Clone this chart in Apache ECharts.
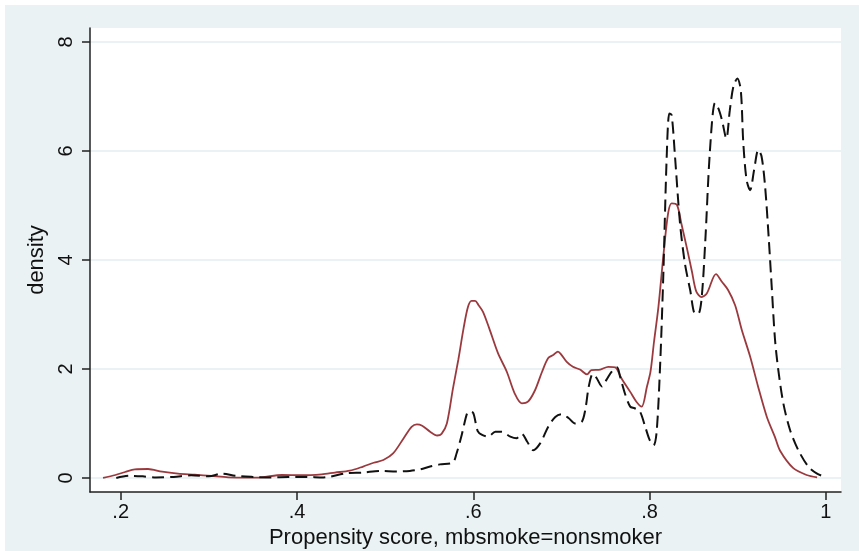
<!DOCTYPE html>
<html>
<head>
<meta charset="utf-8">
<script src="https://cdn.jsdelivr.net/npm/echarts@6/dist/echarts.min.js"></script>
<style>
    html, body { margin: 0; padding: 0; background: #ffffff; }
    #frame { position: absolute; left: 5px; top: 5px; width: 854px; height: 546px; background: #eaf2f3; }
    #main { width: 854px; height: 546px; }
</style>
</head>
<body>
<div id="frame"><div id="main"></div></div>
<script>
// kdensity of propensity score, two groups
var redX = [0.180, 0.194, 0.205, 0.216, 0.231, 0.247, 0.265, 0.284, 0.303, 0.322, 0.341, 0.360, 0.383, 0.405, 0.428, 0.443,
    0.460, 0.475, 0.487, 0.498, 0.509, 0.521, 0.530, 0.536, 0.542, 0.551, 0.559, 0.564, 0.570, 0.577, 0.583, 0.589, 0.594,
    0.598, 0.602, 0.606, 0.611, 0.618, 0.628, 0.638, 0.647, 0.655, 0.662, 0.670, 0.678, 0.685, 0.691, 0.696, 0.700, 0.706,
    0.713, 0.721, 0.729, 0.734, 0.744, 0.753, 0.761, 0.768, 0.778, 0.785, 0.791, 0.797, 0.801, 0.805, 0.810, 0.8155, 0.821,
    0.825, 0.831, 0.836, 0.842, 0.848, 0.853, 0.859, 0.865, 0.8753, 0.882, 0.889, 0.897, 0.9045, 0.914, 0.923, 0.933, 0.942,
    0.948, 0.963, 0.978, 0.990];
var redY = [0.00, 0.055, 0.11, 0.16, 0.165, 0.115, 0.08, 0.06, 0.037, 0.013, 0.005, 0.013, 0.055, 0.05, 0.068, 0.10,
    0.134, 0.21, 0.28, 0.33, 0.45, 0.73, 0.94, 0.985, 0.96, 0.85, 0.78, 0.81, 1.00, 1.65, 2.17, 2.75, 3.14,
    3.25, 3.25, 3.17, 3.05, 2.75, 2.29, 1.95, 1.55, 1.37, 1.40, 1.61, 1.95, 2.20, 2.26, 2.32, 2.26, 2.13,
    2.04, 1.99, 1.90, 1.98, 1.99, 2.04, 2.03, 1.83, 1.58, 1.40, 1.31, 1.68, 1.95, 2.50, 3.14, 4.06, 4.86,
    5.04, 5.01, 4.67, 4.24, 3.79, 3.42, 3.32, 3.39, 3.74, 3.60, 3.45, 3.17, 2.72, 2.23, 1.68, 1.12, 0.76,
    0.50, 0.18, 0.055, 0.013];

var blackX = [0.195, 0.210, 0.225, 0.240, 0.260, 0.280, 0.300, 0.315, 0.330, 0.350, 0.370, 0.390, 0.410, 0.430, 0.4375,
    0.456, 0.475, 0.494, 0.513, 0.528, 0.540, 0.551, 0.562, 0.5765, 0.581, 0.587, 0.593, 0.596, 0.600, 0.605, 0.610, 0.617,
    0.625, 0.632, 0.642, 0.649, 0.655, 0.661, 0.668, 0.676, 0.685, 0.693, 0.700, 0.708, 0.7155, 0.723, 0.727, 0.731, 0.7355,
    0.740, 0.746, 0.751, 0.757, 0.763, 0.7665, 0.772, 0.778, 0.783, 0.789, 0.795, 0.800, 0.8045, 0.808, 0.812, 0.8155,
    0.8194, 0.8224, 0.825, 0.8288, 0.8345, 0.840, 0.846, 0.8515, 0.8553, 0.859, 0.863, 0.8685, 0.8742, 0.878, 0.882, 0.887,
    0.891, 0.895, 0.8995, 0.9034, 0.9063, 0.910, 0.914, 0.9185, 0.9233, 0.927, 0.931, 0.935, 0.9385, 0.9422, 0.946, 0.9517,
    0.9593, 0.9687, 0.980, 0.9895, 1.0008];
var blackY = [0.00, 0.04, 0.03, 0.01, 0.02, 0.05, 0.03, 0.08, 0.04, 0.02, 0.01, 0.02, 0.02, 0.01, 0.025,
    0.086, 0.10, 0.13, 0.12, 0.13, 0.16, 0.21, 0.25, 0.28, 0.45, 0.80, 1.19, 1.22, 1.19, 0.86, 0.79, 0.76,
    0.85, 0.85, 0.76, 0.73, 0.81, 0.67, 0.51, 0.64, 0.94, 1.12, 1.17, 1.10, 1.00, 1.03, 1.25, 1.68, 1.91,
    1.83, 1.68, 1.80, 1.95, 2.03, 1.86, 1.55, 1.31, 1.28, 1.22, 0.94, 0.70, 0.60, 0.85, 2.10, 3.70,
    5.90, 6.69, 6.66, 5.90, 4.67, 3.94, 3.45, 3.02, 3.02, 3.30, 4.30, 6.02, 6.88, 6.78, 6.57, 6.23,
    6.75, 7.18, 7.33, 7.12, 6.14, 5.47, 5.28, 5.65, 6.02, 5.90, 5.35, 4.43, 3.51, 2.55, 1.98, 1.37,
    0.88, 0.51, 0.21, 0.086, 0.005];

var xTicks = [0.2, 0.4, 0.6, 0.8, 1];
var yTicks = [0, 2, 4, 6, 8];

function pairs(xs, ys) {
    return xs.map(function (x, i) { return [x, ys[i]]; });
}

var myChart = echarts.init(document.getElementById('main'));
var labelFont = { fontFamily: 'Liberation Sans, Arial, sans-serif', color: '#111', fontSize: 20 };
var option = {
    backgroundColor: 'transparent',
    animation: false,
    grid: {
        left: 85, top: 23, width: 751, height: 464,
        containLabel: false,
        outerBoundsMode: 'none',
        show: true, backgroundColor: '#ffffff', borderWidth: 0
    },
    xAxis: {
        type: 'value',
        min: 0.1652, max: 1.0171,
        name: 'Propensity score, mbsmoke=nonsmoker',
        nameLocation: 'middle',
        nameGap: 32,
        nameTextStyle: { fontFamily: 'Liberation Sans, Arial, sans-serif', color: '#111', fontSize: 22 },
        axisLine: { onZero: false, lineStyle: { color: '#222', width: 1.5 } },
        axisTick: { customValues: xTicks, length: 8, lineStyle: { color: '#222', width: 1.5 } },
        axisLabel: Object.assign({
            customValues: xTicks, margin: 10,
            formatter: function (v) { return v >= 1 ? '1' : String(+v.toFixed(1)).replace(/^0/, ''); }
        }, labelFont),
        splitLine: { show: false }
    },
    yAxis: {
        type: 'value',
        min: -0.257, max: 8.257,
        name: 'density',
        nameLocation: 'middle',
        nameGap: 42,
        nameTextStyle: { fontFamily: 'Liberation Sans, Arial, sans-serif', color: '#111', fontSize: 22 },
        axisLine: { show: true, lineStyle: { color: '#222', width: 1.5 } },
        axisTick: { show: true, customValues: yTicks, length: 8, lineStyle: { color: '#222', width: 1.5 } },
        axisLabel: Object.assign({ customValues: yTicks, rotate: 90, margin: 14 }, labelFont),
        splitLine: { show: true, lineStyle: { color: '#eaf2f3', width: 2 } }
    },
    series: [
        {
            name: 'smoker',
            type: 'line',
            data: pairs(redX, redY),
            symbol: 'none',
            smooth: 0.3,
            lineStyle: { color: '#9b3a3e', width: 1.8 }
        },
        {
            name: 'nonsmoker',
            type: 'line',
            data: pairs(blackX, blackY),
            symbol: 'none',
            smooth: 0.3,
            lineStyle: { color: '#111111', width: 2, type: [12, 6] }
        }
    ]
};
myChart.setOption(option);
</script>
</body>
</html>
